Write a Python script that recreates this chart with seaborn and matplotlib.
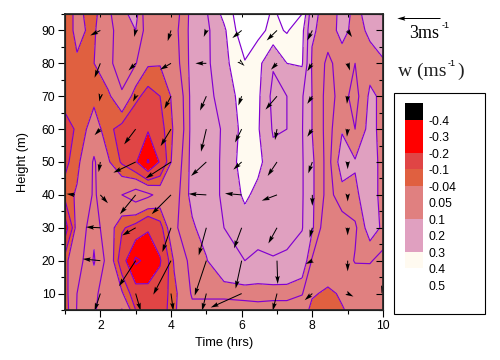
import numpy as np
import matplotlib
matplotlib.use("Agg")
import matplotlib.pyplot as plt
from matplotlib.colors import ListedColormap, BoundaryNorm
import seaborn as sns

sns.set_theme(style="ticks")
plt.rcParams['font.family'] = ['Liberation Sans']

# contour grid (w in m/s), one list per height
hours = [1.0, 1.34, 1.82, 2.22, 2.61, 3.0, 3.35, 3.69, 4.09, 4.6, 5.0, 5.5,
         6.09, 6.46, 6.89, 7.28, 7.71, 7.99, 8.44, 8.84, 9.21, 9.63, 10.0]
heights = [95, 90, 80, 70, 60, 50, 40, 30, 20, 10, 5]
w95 = [-.07, -.025, -.065, .04, .085, .12, 0, 0, .02, .12, .19, .33, .49, .47, .38, .45, .40, .13, .055, .125, .085, .12, .16]
w90 = [-.06, -.03, -.05, .03, .08, .1, .02, 0, .03, .12, .18, .28, .49, .43, .37, .41, .33, .11, .07, .12, .08, .11, .15]
w80 = [-.06, -.045, -.041, .04, .07, .055, -.03, -.035, .02, .12, .18, .27, .39, .33, .21, .3, .31, .09, .04, .07, .05, .08, .09]
w70 = [-.07, -.07, -.06, -.06, .045, -.08, -.13, -.1, -.02, .12, .17, .24, .35, .32, .17, .2, .21, .1, .03, .07, .03, .11, .09]
w60 = [-.13, -.09, 0, -.08, -.13, -.17, -.19, -.13, -.03, .12, .16, .21, .34, .31, .19, .2, .205, .1, .03, .095, .05, .12, .08]
w50 = [-.12, -.06, .06, -.03, -.11, -.19, -.31, -.19, 0, .12, .17, .21, .36, .33, .23, .22, .21, .11, .03, .13, .105, .13, .08]
w40 = [-.07, -.03, .06, 0, .05, .1, .07, .02, .02, .12, .17, .21, .32, .27, .25, .23, .21, .11, .03, .08, .09, .13, .08]
w30 = [-.26, 0, .09, 0, -.09, -.13, -.19, -.13, .04, .09, .13, .2, .25, .26, .23, .22, .205, .11, 0, .02, .04, .13, .09]
w20 = [-.06, .02, .105, .03, -.15, -.32, -.27, -.21, -.03, .08, .095, .17, .2, .17, .195, .19, .15, .045, .02, .01, .055, .055, .03]
w10 = [-.07, .05, .07, 0, -.03, -.15, -.17, -.15, -.06, .06, .06, .06, .065, .07, .065, .065, .055, -.03, -.055, -.03, -.01, 0, .03]
w05 = [-.08, .055, .06, 0, .055, -.1, -.16, -.15, -.05, .03, .03, .03, .03, .03, .03, .03, 0, -.06, -.09, -.045, -.02, -.01, 0]

levels = [-.4, -.3, -.2, -.1, -.04, .05, .1, .2, .3, .4, .5]
level_labels = ['-0.4', '-0.3', '-0.2', '-0.1', '-0.04', '0.05', '0.1', '0.2', '0.3', '0.4', '0.5']
band_colors = ['#000000', '#ff0000', '#ff0000', '#e04545', '#e06040', '#e08080', '#e08080',
               '#e0a0c0', '#e0a0c0', '#fffaf0', '#ffffff']

# wind arrows (m/s), hours 2..9 at each height
arrow_hours = [2, 3, 4, 5, 6, 7, 8, 9]
arrow_heights = [90, 80, 70, 60, 50, 40, 30, 20, 10]
u90 = [-.7, -.1, -.23, -.18, -.65, -.72, -.35, .3]
v90 = [-.35, -.45, -.74, -.45, -.53, -.7, -.7, -.46]
u80 = [-.4, -.5, -.76, -.76, .2, -.42, -.35, .16]
v80 = [-1.0, -.5, -.44, 0, -.18, -.44, -.55, -.5]
u70 = [-.07, -.18, -.46, -.44, -.23, -.8, -.35, -.05]
v70 = [-.37, -.37, -.88, -1.0, -.65, -.93, -.53, -.53]
u60 = [-.4, -.8, -.72, -.37, -.46, -.14, -.35, -.05]
v60 = [-.42, -1.06, -1.18, -1.57, -.93, -.76, -.53, -.53]
u50 = [-.12, -1.55, -1.76, -1.06, -.58, -.65, -.28, 0]
v50 = [-.7, -.74, -1.13, -.97, -.53, -.97, -.79, -.5]
u40 = [.53, -1.09, -1.34, -1.23, -1.16, -1.06, 0, 0]
v40 = [-.58, -1.34, -1.34, .07, .1, -.4, -.76, -.46]
u30 = [-1.0, -.93, -.6, -.53, -.53, -.6, -.19, 0]
v30 = [.05, -.53, -1.69, -1.92, -1.43, -1.09, -.69, -.53]
u20 = [-1.23, -1.16, -1.23, -.81, -.42, .05, -.46, 0]
v20 = [.12, -1.78, -2.36, -2.43, -1.94, -1.62, -.23, -.74]
u10 = [-.4, .35, .16, -.3, -2.15, -.3, -.53, .4]
v10 = [-1.2, -1.2, -1.2, -1.2, -.97, -1.2, -.46, -.21]
# two arrows off the main grid
extra_x = [1.28, 10.0]
extra_y = [40, 12]
extra_u = [-.58, -.1]
extra_v = [.07, -.46]
top_stub_hours = [2, 3, 4, 6, 8, 9]

W = np.array([w95, w90, w80, w70, w60, w50, w40, w30, w20, w10, w05])
U = np.array([u90, u80, u70, u60, u50, u40, u30, u20, u10])
V = np.array([v90, v80, v70, v60, v50, v40, v30, v20, v10])

palette = sns.color_palette(band_colors)

fig = plt.figure(figsize=(5, 3.6), dpi=100, facecolor='white')
ax = fig.add_axes([65 / 500, 50 / 360, 318 / 500, 296 / 360])

ax.contourf(hours, heights, W, levels=levels, cmap=ListedColormap(palette[1:]),
            norm=BoundaryNorm(levels + [.6], 11))
ax.contour(hours, heights, W, levels=levels, colors='#8000d0', linewidths=0.85,
           linestyles='solid')

X, Y = np.meshgrid(arrow_hours, arrow_heights)
arrow_style = dict(angles='uv', units='dots', scale_units='dots', scale=1 / 14.4, width=1.0,
                   headwidth=4.5, headlength=8, headaxislength=7, minshaft=0.5, minlength=0,
                   color='black', zorder=5)
ax.quiver(X, Y, U, V, **arrow_style)
ax.quiver(extra_x, extra_y, extra_u, extra_v, **arrow_style)
ax.vlines(top_stub_hours, 94, 95, color='black', linewidth=0.72, zorder=5)

ax.set_xlim(1, 10)
ax.set_ylim(5, 95)
ax.set_xticks([2, 4, 6, 8, 10])
ax.set_xticks([1, 3, 5, 7, 9], minor=True)
ax.set_yticks(range(10, 100, 10))
ax.set_yticks(range(5, 100, 10), minor=True)
ax.tick_params(axis='both', which='major', direction='out', length=5, width=0.8, color='black',
               labelsize=8.7, labelcolor='black', pad=2)
ax.tick_params(axis='both', which='minor', direction='out', length=3, width=0.8, color='black')
for sp in ax.spines.values():
    sp.set_color('black')
    sp.set_linewidth(0.8)
ax.set_xlabel('Time (hrs)', fontsize=9.3, color='black', labelpad=4)
ax.set_ylabel('Height (m)', fontsize=9.3, color='black', labelpad=9)

# right side ticks point inwards
right = ax.twinx()
right.set_ylim(5, 95)
right.set_yticks(range(10, 100, 10))
right.set_yticks(range(5, 100, 10), minor=True)
right.tick_params(axis='y', which='major', direction='in', length=5, width=0.8, color='black', labelright=False)
right.tick_params(axis='y', which='minor', direction='in', length=3, width=0.8, color='black')
right.grid(False)

# overlay in pixels for the legend parts
over = fig.add_axes([0, 0, 1, 1], facecolor='none')
over.set_xlim(0, 500)
over.set_ylim(360, 0)
over.axis('off')
over.quiver([440], [18], [-3], [0], **arrow_style)
over.text(409, 33, '3ms', family='Liberation Serif', fontsize=13, color='black', va='center')
over.text(442, 25, '-1', family='Liberation Sans', fontsize=6.5, color='black', va='center')
over.text(398, 71, 'w (ms', family='Liberation Serif', fontsize=14, color='#202020', va='center')
over.text(448, 63, '-1', family='Liberation Sans', fontsize=6.5, color='black', va='center')
over.text(457, 71, ')', family='Liberation Serif', fontsize=14, color='#202020', va='center')
over.add_patch(plt.Rectangle((393.5, 92.5), 91, 221, fill=False, edgecolor='black', linewidth=0.8))

# colour key
key = fig.add_axes([405 / 500, (360 - 285) / 360, 18 / 500, 182 / 360])
key_cells = np.arange(len(band_colors)).reshape(-1, 1)
sns.heatmap(key_cells, ax=key, cmap=ListedColormap(palette), cbar=False, xticklabels=False, yticklabels=False)
key.set_xlabel('')
key.set_ylabel('')
for lab, lev_i in zip(level_labels, range(1, 12)):
    key.text(1.28, lev_i + 0.12, lab, fontsize=8.7, color='black', va='center', ha='left', clip_on=False)

fig.savefig('out.png', dpi=100)
